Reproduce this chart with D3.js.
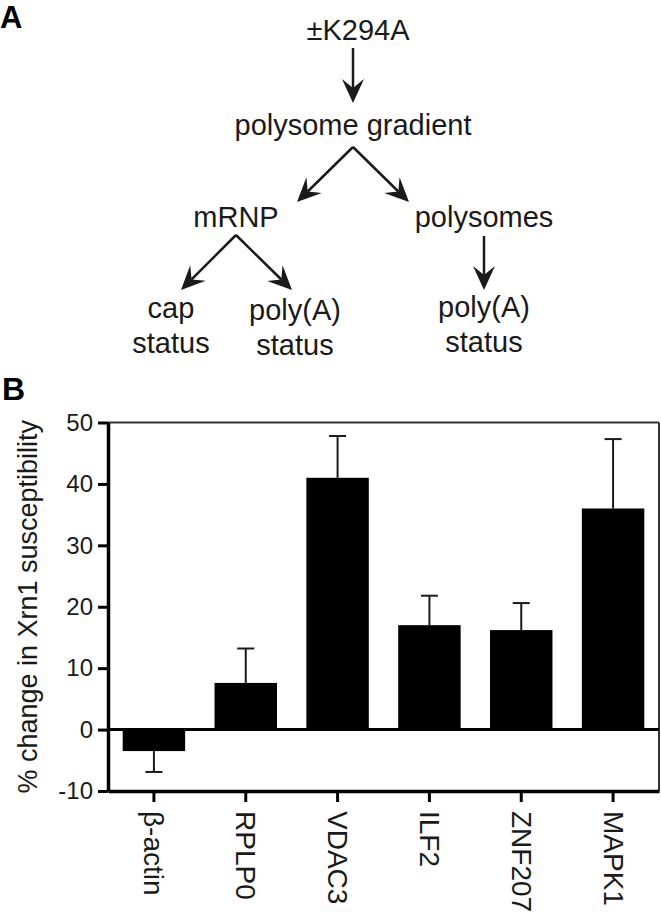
<!DOCTYPE html>
<html>
<head>
<meta charset="utf-8">
<script src="https://cdn.jsdelivr.net/npm/d3@7"></script>
<style>
  body { margin: 0; background: #fff; }
  svg { display: block; font-family: "Liberation Sans", Arial, sans-serif; }
</style>
</head>
<body>
<svg id="fig" width="661" height="917"></svg>
<script>
// panel B values
const genes = ["β-actin", "RPLP0", "VDAC3", "ILF2", "ZNF207", "MAPK1"];
const values = [-3.5, 7.6, 41.0, 17.0, 16.2, 36.0];
const errors = [3.4, 5.6, 6.8, 4.8, 4.4, 11.3];
const yTicks = [-10, 0, 10, 20, 30, 40, 50];
const yTitle = "% change in Xrn1 susceptibility";

const ink = "#1a1a1a";
const svg = d3.select("#fig");

// panel letters
svg.append("text").attr("x", 0).attr("y", 28).text("A")
  .attr("font-size", 31).attr("font-weight", "bold").attr("fill", "#000");
svg.append("text").attr("x", 2).attr("y", 400).text("B")
  .attr("font-size", 32).attr("font-weight", "bold").attr("fill", "#000");

// ---------- panel A : flow diagram ----------
const labels = [
  {t: "±K294A", x: 358, y: 40},
  {t: "polysome gradient", x: 353, y: 135},
  {t: "mRNP", x: 236, y: 227},
  {t: "polysomes", x: 484, y: 227},
  {t: "cap", x: 171, y: 318},
  {t: "status", x: 171, y: 353},
  {t: "poly(A)", x: 295, y: 320},
  {t: "status", x: 295, y: 355},
  {t: "poly(A)", x: 484, y: 317},
  {t: "status", x: 484, y: 352}
];
const arrows = [
  [353, 48, 353, 103],
  [353, 147, 297, 202],
  [353, 147, 409, 202],
  [236, 235, 181, 290],
  [236, 235, 292, 290],
  [484, 236, 484, 290]
];

const gA = svg.append("g");
gA.selectAll("text.lab").data(labels).join("text")
  .attr("class", "lab")
  .attr("x", d => d.x).attr("y", d => d.y)
  .attr("text-anchor", "middle")
  .attr("font-size", 29)
  .attr("fill", ink)
  .text(d => d.t);

function arrow(g, x1, y1, x2, y2) {
  const ang = Math.atan2(y2 - y1, x2 - x1);
  const L = 24, W = 11, notch = 15;
  const ux = Math.cos(ang), uy = Math.sin(ang);
  const px = -uy, py = ux;
  const bx = x2 - ux * L, by = y2 - uy * L;
  const nx = x2 - ux * notch, ny = y2 - uy * notch;
  g.append("line")
    .attr("x1", x1).attr("y1", y1).attr("x2", nx).attr("y2", ny)
    .attr("stroke", ink).attr("stroke-width", 2.5);
  const p = d3.path();
  p.moveTo(x2, y2);
  p.lineTo(bx + px * W, by + py * W);
  p.lineTo(nx, ny);
  p.lineTo(bx - px * W, by - py * W);
  p.closePath();
  g.append("path").attr("d", p.toString()).attr("fill", ink);
}
arrows.forEach(a => arrow(gA, a[0], a[1], a[2], a[3]));

// ---------- panel B : bar chart ----------
const pLeft = 108, pRight = 659, pTop = 422.5, pBottom = 791;

const x = d3.scaleBand()
  .domain(genes)
  .range([pLeft, pRight])
  .paddingInner(0.32)
  .paddingOuter(0.16);

const y = d3.scaleLinear()
  .domain([-10, 50])
  .range([pBottom, pTop]);

const gB = svg.append("g");

// frame top / right
gB.append("line").attr("x1", pLeft).attr("x2", pRight).attr("y1", pTop).attr("y2", pTop)
  .attr("stroke", "#333").attr("stroke-width", 2);
gB.append("line").attr("x1", pRight).attr("x2", pRight).attr("y1", pTop).attr("y2", pBottom)
  .attr("stroke", "#333").attr("stroke-width", 2);

// bars
gB.selectAll("rect.bar").data(genes).join("rect")
  .attr("class", "bar")
  .attr("x", d => x(d))
  .attr("width", x.bandwidth())
  .attr("y", (d, i) => y(Math.max(0, values[i])))
  .attr("height", (d, i) => Math.abs(y(values[i]) - y(0)))
  .attr("fill", "#000");

// error bars (one-sided, away from zero)
const capW = 8.5;
genes.forEach((g, i) => {
  const cx = x(g) + x.bandwidth() / 2;
  const v = values[i];
  const e = v >= 0 ? v + errors[i] : v - errors[i];
  gB.append("line").attr("x1", cx).attr("x2", cx)
    .attr("y1", y(v)).attr("y2", y(e))
    .attr("stroke", ink).attr("stroke-width", 2);
  gB.append("line").attr("x1", cx - capW).attr("x2", cx + capW)
    .attr("y1", y(e)).attr("y2", y(e))
    .attr("stroke", ink).attr("stroke-width", 2);
});

// zero line
gB.append("line").attr("x1", pLeft).attr("x2", pRight)
  .attr("y1", y(0)).attr("y2", y(0))
  .attr("stroke", "#000").attr("stroke-width", 3);

// y axis
const yAxis = gB.append("g")
  .attr("transform", `translate(${pLeft},0)`)
  .call(d3.axisLeft(y).tickValues(yTicks).tickFormat(d => String(d))
    .tickSize(10).tickSizeOuter(0).tickPadding(5));
yAxis.select(".domain").attr("stroke", "#000").attr("stroke-width", 3.5);
yAxis.selectAll(".tick line").attr("stroke", "#000").attr("stroke-width", 3);
yAxis.selectAll(".tick text")
  .attr("font-size", 24).attr("fill", ink)
  .attr("font-family", "Liberation Sans, Arial, sans-serif");

// x axis
const xAxis = gB.append("g")
  .attr("transform", `translate(0,${pBottom})`)
  .call(d3.axisBottom(x).tickSize(11).tickSizeOuter(0));
xAxis.select(".domain").attr("stroke", "#000").attr("stroke-width", 3.5);
xAxis.selectAll(".tick line").attr("stroke", "#000").attr("stroke-width", 3);
xAxis.selectAll(".tick text")
  .attr("x", 0).attr("y", 0).attr("dy", null)
  .attr("transform", "translate(0,20) rotate(90)")
  .attr("text-anchor", "start")
  .attr("dominant-baseline", "central")
  .attr("font-size", 28).attr("fill", ink)
  .attr("font-family", "Liberation Sans, Arial, sans-serif");

// y title
svg.append("text")
  .attr("transform", `translate(37,${(pTop + pBottom) / 2}) rotate(-90)`)
  .attr("text-anchor", "middle")
  .attr("font-size", 27)
  .attr("fill", ink)
  .text(yTitle);
</script>
</body>
</html>
